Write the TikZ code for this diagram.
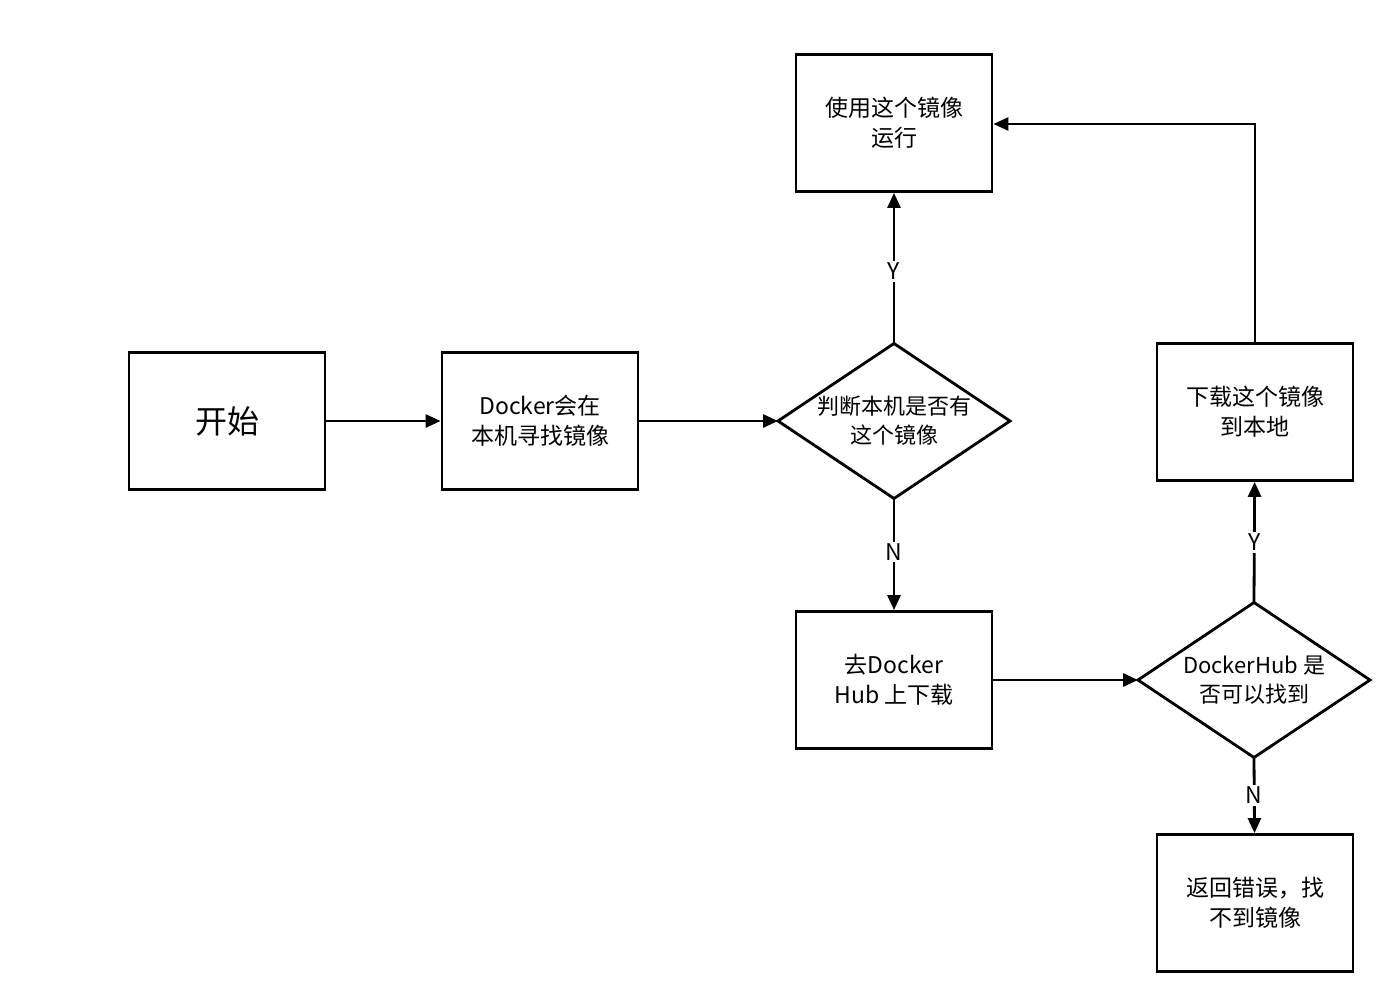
\documentclass[tikz,border=0pt]{standalone}
\usepackage{fontspec}
\setmainfont{Noto Sans CJK SC}
\usetikzlibrary{shapes.geometric,arrows.meta}
\begin{document}
\begin{tikzpicture}[x=1pt,y=-1pt,
  box/.style={draw,line width=2.8pt,minimum width=196pt,minimum height=137pt,align=center,font=\fontsize{23}{30}\selectfont,inner sep=0pt},
  dia/.style={minimum width=232pt,minimum height=155pt,align=center,font=\fontsize{22}{29}\selectfont,inner sep=0pt,outer sep=0pt},
  dline/.style={line width=2.8pt,line join=miter},
  arr/.style={line width=2.8pt,-{Triangle[length=15pt,width=13pt]}},
  lab/.style={fill=white,font=\fontsize{23}{26}\selectfont,inner sep=2pt}]
\fill[white] (0,0) rectangle (1387,981);
\useasboundingbox (0,0) rectangle (1387,981);
\node[box,font=\fontsize{32}{38}\selectfont] (start) at (227,421) {开始};
\node[box] (find) at (540,421) {Docker会在\\本机寻找镜像};
\node[dia] (d1) at (894,421) {判断本机是否有\\这个镜像};
\draw[dline] (d1.north) -- (d1.east) -- (d1.south) -- (d1.west) -- cycle;
\node[box] (use) at (894,123) {使用这个镜像\\运行};
\node[box] (hub) at (894,680) {去Docker\\Hub 上下载};
\node[dia] (d2) at (1254,680) {DockerHub 是\\否可以找到};
\draw[dline] (d2.north) -- (d2.east) -- (d2.south) -- (d2.west) -- cycle;
\node[box] (dl) at (1255,412) {下载这个镜像\\到本地};
\node[box] (err) at (1255,903) {返回错误，找\\不到镜像};
\draw[arr] (start) -- (find);
\draw[arr] (find) -- (d1.west);
\draw[arr] (d1.north) -- node[lab,pos=0.48]{Y} (use);
\draw[arr] (d1.south) -- node[lab,pos=0.48]{N} (hub);
\draw[arr] (hub) -- (d2.west);
\draw[arr] (d2.north) -- node[lab,pos=0.5]{Y} (dl);
\draw[arr] (d2.south) -- node[lab,pos=0.5]{N} (err);
\draw[arr] (dl.north) -- (1255,124) -- (use.east |- 0,124);
\end{tikzpicture}
\end{document}
